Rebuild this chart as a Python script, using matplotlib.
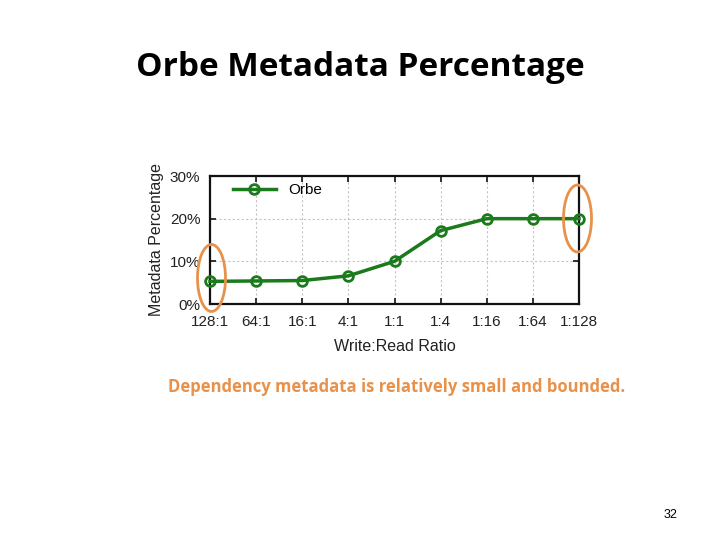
import matplotlib
matplotlib.use("Agg")
import matplotlib.pyplot as plt
from matplotlib.patches import Ellipse

categories = ["128:1", "64:1", "16:1", "4:1", "1:1", "1:4", "1:16", "1:64", "1:128"]
orbe = [5.3, 5.4, 5.5, 6.6, 10.0, 17.2, 20.0, 20.0, 20.0]
yticks = [0, 10, 20, 30]
ytick_labels = ["0%", "10%", "20%", "30%"]

fig = plt.figure(figsize=(7.2, 5.4), dpi=100)
fig.patch.set_facecolor("white")

fig.text(0.5, 1 - 68/540, "Orbe Metadata Percentage", ha="center", va="center",
         fontsize=24, fontweight="bold", family=["Open Sans", "DejaVu Sans"])

# axes box: left 210, right 579, top 176, bottom 304
ax = fig.add_axes([210/720, 1 - 304/540, (579-210)/720, (304-176)/540])
x = list(range(len(categories)))
ax.plot(x, orbe, color="#1b7a1b", lw=2.5, marker="o", ms=7, mfc="none",
        mew=2, label="Orbe", zorder=3, clip_on=False)
ax.set_xlim(0, 8)
ax.set_ylim(0, 30)
ax.set_xticks(x)
ax.set_xticklabels(categories)
ax.set_yticks(yticks)
ax.set_yticklabels(ytick_labels)
for lab in ax.get_xticklabels() + ax.get_yticklabels():
    lab.set_family(["Liberation Sans", "DejaVu Sans"])
    lab.set_fontsize(11)
ax.tick_params(direction="in", length=4, width=1.3, colors="#222222",
               top=True, right=True)
ax.tick_params(axis="y", pad=7)
ax.tick_params(axis="x", pad=8)
ax.grid(True, color="#c4c4c4", linestyle=(0, (2, 2)), lw=0.8)
for s in ax.spines.values():
    s.set_linewidth(1.6)
    s.set_color("#111111")
ax.set_xlabel("Write:Read Ratio", fontsize=11.5, family=["Liberation Sans", "DejaVu Sans"],
              labelpad=7, color="#222222")
ax.set_ylabel("Metadata Percentage", fontsize=11.5, family=["Liberation Sans", "DejaVu Sans"],
              labelpad=4, color="#222222")
leg = ax.legend(loc="upper left", frameon=False, handlelength=2.8,
                prop={"family": "Liberation Sans", "size": 11},
                bbox_to_anchor=(0.025, 1.05))

# orange highlight ellipses (in figure pixel coordinates)
def fig_ellipse(cx, cy, w, h):
    e = Ellipse((cx/720, 1 - cy/540), w/720, h/540, transform=fig.transFigure,
                fill=False, edgecolor="#E8914A", lw=2)
    fig.patches.append(e)

fig_ellipse(211.5, 278, 28, 67)
fig_ellipse(577.5, 218.5, 28, 67)

fig.text(397/720, 1 - 387/540, "Dependency metadata is relatively small and bounded.",
         ha="center", va="center", fontsize=12, fontweight="bold", color="#E8914A",
         family=["Open Sans", "DejaVu Sans"])
fig.text(670/720, 1 - 515/540, "32", ha="center", va="center", fontsize=9,
         family=["Liberation Sans", "DejaVu Sans"])

fig.savefig("out.png", dpi=100)
